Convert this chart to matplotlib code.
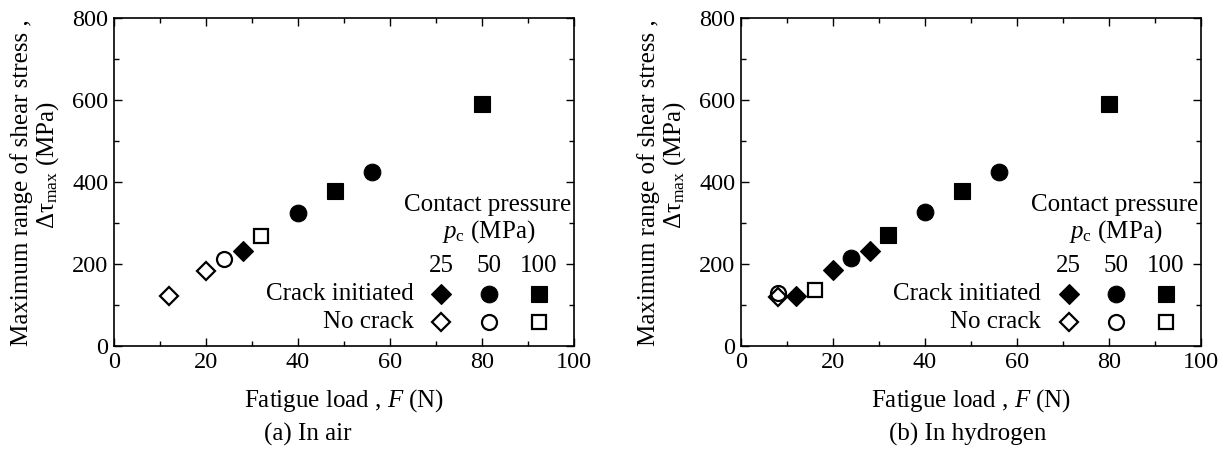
import matplotlib
matplotlib.use('Agg')
import matplotlib.pyplot as plt
from matplotlib.ticker import MultipleLocator

plt.rcParams['font.family'] = ['Liberation Serif', 'DejaVu Serif']
plt.rcParams['mathtext.fontset'] = 'custom'
plt.rcParams['mathtext.rm'] = 'Liberation Serif'
plt.rcParams['mathtext.it'] = 'Liberation Serif:italic'

# (a) In air
air_nc25_F = [12, 20]
air_nc25_tau = [122, 184]
air_nc50_F = [24]
air_nc50_tau = [213]
air_nc100_F = [32]
air_nc100_tau = [268]
air_c25_F = [28]
air_c25_tau = [231]
air_c50_F = [40, 56]
air_c50_tau = [325, 424]
air_c100_F = [48, 80]
air_c100_tau = [377, 591]

# (b) In hydrogen
h2_nc25_F = [8]
h2_nc25_tau = [120]
h2_nc50_F = [8]
h2_nc50_tau = [129]
h2_nc100_F = [16]
h2_nc100_tau = [137]
h2_c25_F = [12, 20, 28]
h2_c25_tau = [122, 186, 232]
h2_c50_F = [24, 40, 56]
h2_c50_tau = [215, 326, 424]
h2_c100_F = [32, 48, 80]
h2_c100_tau = [271, 377, 591]

pressures = ['25', '50', '100']
markers = ['D', 'o', 's']
MS = {'D': 10.3, 'o': 12, 's': 11.2}
FS = 18


def draw_point(ax, x, y, m, filled):
    ms = MS[m]
    if filled:
        ax.plot(x, y, ls='none', marker=m, ms=ms, mfc='black', mec='black',
                mew=0.8, clip_on=False)
    else:
        ax.plot(x, y, ls='none', marker=m, ms=ms - 1.2, mfc='none', mec='black',
                mew=1.6, clip_on=False)


def setup_panel(ax, caption, caption_x):
    ax.set_xlim(0, 100)
    ax.set_ylim(0, 800)
    ax.xaxis.set_major_locator(MultipleLocator(20))
    ax.xaxis.set_minor_locator(MultipleLocator(10))
    ax.yaxis.set_major_locator(MultipleLocator(200))
    ax.yaxis.set_minor_locator(MultipleLocator(100))
    ax.tick_params(which='both', direction='in', top=True, right=True,
                   labelsize=17.5, pad=4, width=1.0, colors='black')
    ax.tick_params(which='major', length=6)
    ax.tick_params(which='minor', length=3.5)
    for s in ax.spines.values():
        s.set_linewidth(1.2)

    ax.text(-0.2007, 0.497, 'Maximum range of shear stress ,', rotation=90,
            ha='center', va='center', fontsize=FS, transform=ax.transAxes)
    ax.text(-0.1435, 0.552, r'Δτ$_{\mathrm{max}}$ (MPa)', rotation=90,
            ha='center', va='center', fontsize=FS, transform=ax.transAxes)
    ax.text(0.5, -0.165, r'Fatigue load , $F$ (N)', ha='center', va='center',
            fontsize=FS, transform=ax.transAxes)
    ax.text(caption_x, -0.271, caption, ha='center', va='center',
            fontsize=FS, transform=ax.transAxes)

    # legend table
    ax.text(99.5, 344, 'Contact pressure', ha='right', va='center', fontsize=FS)
    ax.text(81.5, 279, r'$p_{\mathrm{c}}$ (MPa)', ha='center', va='center', fontsize=FS)
    col_x = [71.2, 81.5, 92.3]
    for cx, lab in zip(col_x, pressures):
        ax.text(cx, 196, lab, ha='center', va='center', fontsize=FS)
    ax.text(65.2, 127, 'Crack initiated', ha='right', va='center', fontsize=FS)
    ax.text(65.2, 58, 'No crack', ha='right', va='center', fontsize=FS)
    for cx, m in zip(col_x, markers):
        draw_point(ax, [cx], [127], m, True)
        draw_point(ax, [cx], [58], m, False)


fig = plt.figure(figsize=(12.28, 4.57), dpi=100)
ax1 = fig.add_axes([0.0928, 0.2429, 0.3746, 0.7177])
ax2 = fig.add_axes([0.6034, 0.2429, 0.3746, 0.7177])

# (a) In air
draw_point(ax1, air_nc25_F, air_nc25_tau, 'D', False)
draw_point(ax1, air_nc50_F, air_nc50_tau, 'o', False)
draw_point(ax1, air_nc100_F, air_nc100_tau, 's', False)
draw_point(ax1, air_c25_F, air_c25_tau, 'D', True)
draw_point(ax1, air_c50_F, air_c50_tau, 'o', True)
draw_point(ax1, air_c100_F, air_c100_tau, 's', True)
setup_panel(ax1, '(a) In air', 0.4217)

# (b) In hydrogen
draw_point(ax2, h2_nc50_F, h2_nc50_tau, 'o', False)
draw_point(ax2, h2_nc25_F, h2_nc25_tau, 'D', False)
draw_point(ax2, h2_nc100_F, h2_nc100_tau, 's', False)
draw_point(ax2, h2_c25_F, h2_c25_tau, 'D', True)
draw_point(ax2, h2_c50_F, h2_c50_tau, 'o', True)
draw_point(ax2, h2_c100_F, h2_c100_tau, 's', True)
setup_panel(ax2, '(b) In hydrogen', 0.4935)

fig.savefig('out.png', dpi=100)
